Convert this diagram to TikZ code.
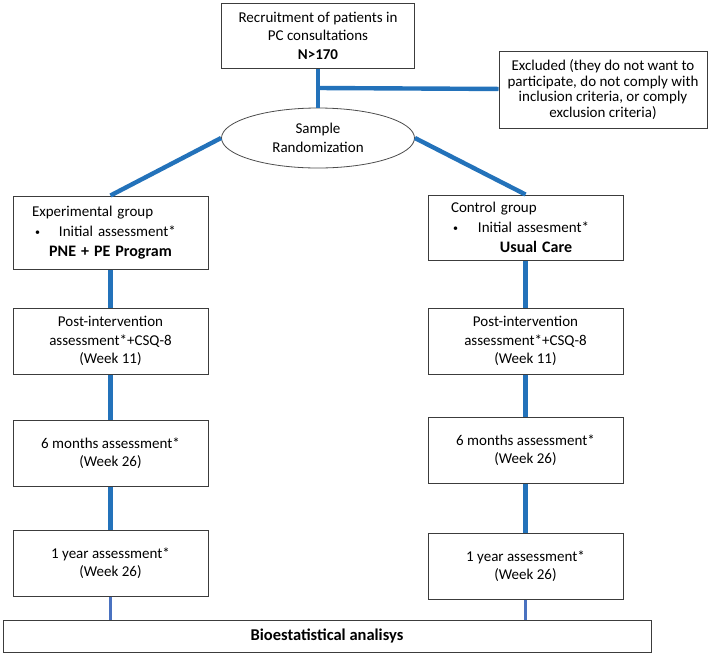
\documentclass[tikz,border=0pt]{standalone}
\usepackage{fontspec}
\setmainfont{Carlito}
\usepackage{tikz}
\usetikzlibrary{positioning, shapes.geometric}
\definecolor{flowblue}{HTML}{2372BA}
\definecolor{endblue}{HTML}{4A72C0}
\definecolor{boxline}{HTML}{3C3C3C}
\newcommand{\smallbullet}{\raisebox{1pt}{\fontsize{10}{10}\selectfont\textbullet}}

\begin{document}
\begin{tikzpicture}[x=1pt, y=-1pt, node distance=40pt,
  main box/.style={rectangle, draw=boxline, line width=1pt, inner sep=0pt, align=center,
    minimum width=195pt, minimum height=66pt, font=\fontsize{15}{18.5}\selectfont},
  group box/.style={main box, text width=195pt, align=left, font=\fontsize{15}{20}\selectfont},
  rand node/.style={ellipse, draw=black!70, line width=0.8pt, inner sep=0pt, align=center,
    minimum width=193pt, minimum height=60pt, font=\fontsize{15}{18.5}\selectfont},
  link/.style={draw=flowblue, line width=4.4pt},
  last link/.style={draw=endblue, line width=3pt}]

\useasboundingbox (0,0) rectangle (709,654);

% top of the flow
\node[main box, minimum width=193pt, minimum height=65pt] (recruit) at (318,35.5)
  {Recruitment of patients in\\PC consultations\\\textbf{N>170}};
\node[main box, minimum width=208pt, minimum height=77pt, font=\fontsize{15}{15.5}\selectfont] (excl) at (603,89.5)
  {Excluded (they do not want to\\participate, do not comply with\\inclusion criteria, or comply\\exclusion criteria)};
\node[rand node] (random) at (318,138) {Sample\\Randomization};
\coordinate (split) at (318,88);

% experimental arm
\node[group box, minimum height=73pt] (expgroup) at (110.5,232.5)
  {\hspace*{19pt}Experimental group\\
   \hspace*{22pt}\smallbullet\hspace*{19pt}Initial assessment*\\
   \makebox[\hsize]{\fontsize{16}{20}\selectfont\bfseries PNE + PE Program}};
\node[main box] (exppost) [below=38pt of expgroup]
  {Post-intervention\\assessment*+CSQ-8\\(Week 11)};
\node[main box] (expsix) [below=45pt of exppost]
  {6 months assessment*\\(Week 26)};
\node[main box] (expyear) [below=43pt of expsix]
  {1 year assessment*\\(Week 26)};

% control arm
\node[group box, minimum height=65pt] (ctlgroup) at (525.5,227.5)
  {\hspace*{23pt}Control group\\
   \hspace*{25pt}\smallbullet\hspace*{20pt}Initial assesment*\\
   \makebox[\hsize]{\hspace*{21pt}\fontsize{16}{20}\selectfont\bfseries Usual Care}};
\node[main box] (ctlpost) [below=47pt of ctlgroup]
  {Post-intervention\\assessment*+CSQ-8\\(Week 11)};
\node[main box] (ctlsix) [below=42pt of ctlpost]
  {6 months assessment*\\(Week 26)};
\node[main box] (ctlyear) [below=49pt of ctlsix]
  {1 year assessment*\\(Week 26)};

\node[main box, minimum width=648pt, minimum height=32pt, font=\fontsize{16.5}{20}\selectfont\bfseries] (bio) at (327,636)
  {Bioestatistical analisys};

\path[link]
(recruit) edge (random)
(split) edge (excl)
(random.west) edge (expgroup.north)
(random.east) edge (ctlgroup.north)
(expgroup) edge (exppost)
(exppost) edge (expsix)
(expsix) edge (expyear)
(ctlgroup) edge (ctlpost)
(ctlpost) edge (ctlsix)
(ctlsix) edge (ctlyear)
;
\path[last link]
(expyear.south) edge (expyear.south |- bio.north)
(ctlyear.south) edge (ctlyear.south |- bio.north)
;
\end{tikzpicture}
\end{document}
